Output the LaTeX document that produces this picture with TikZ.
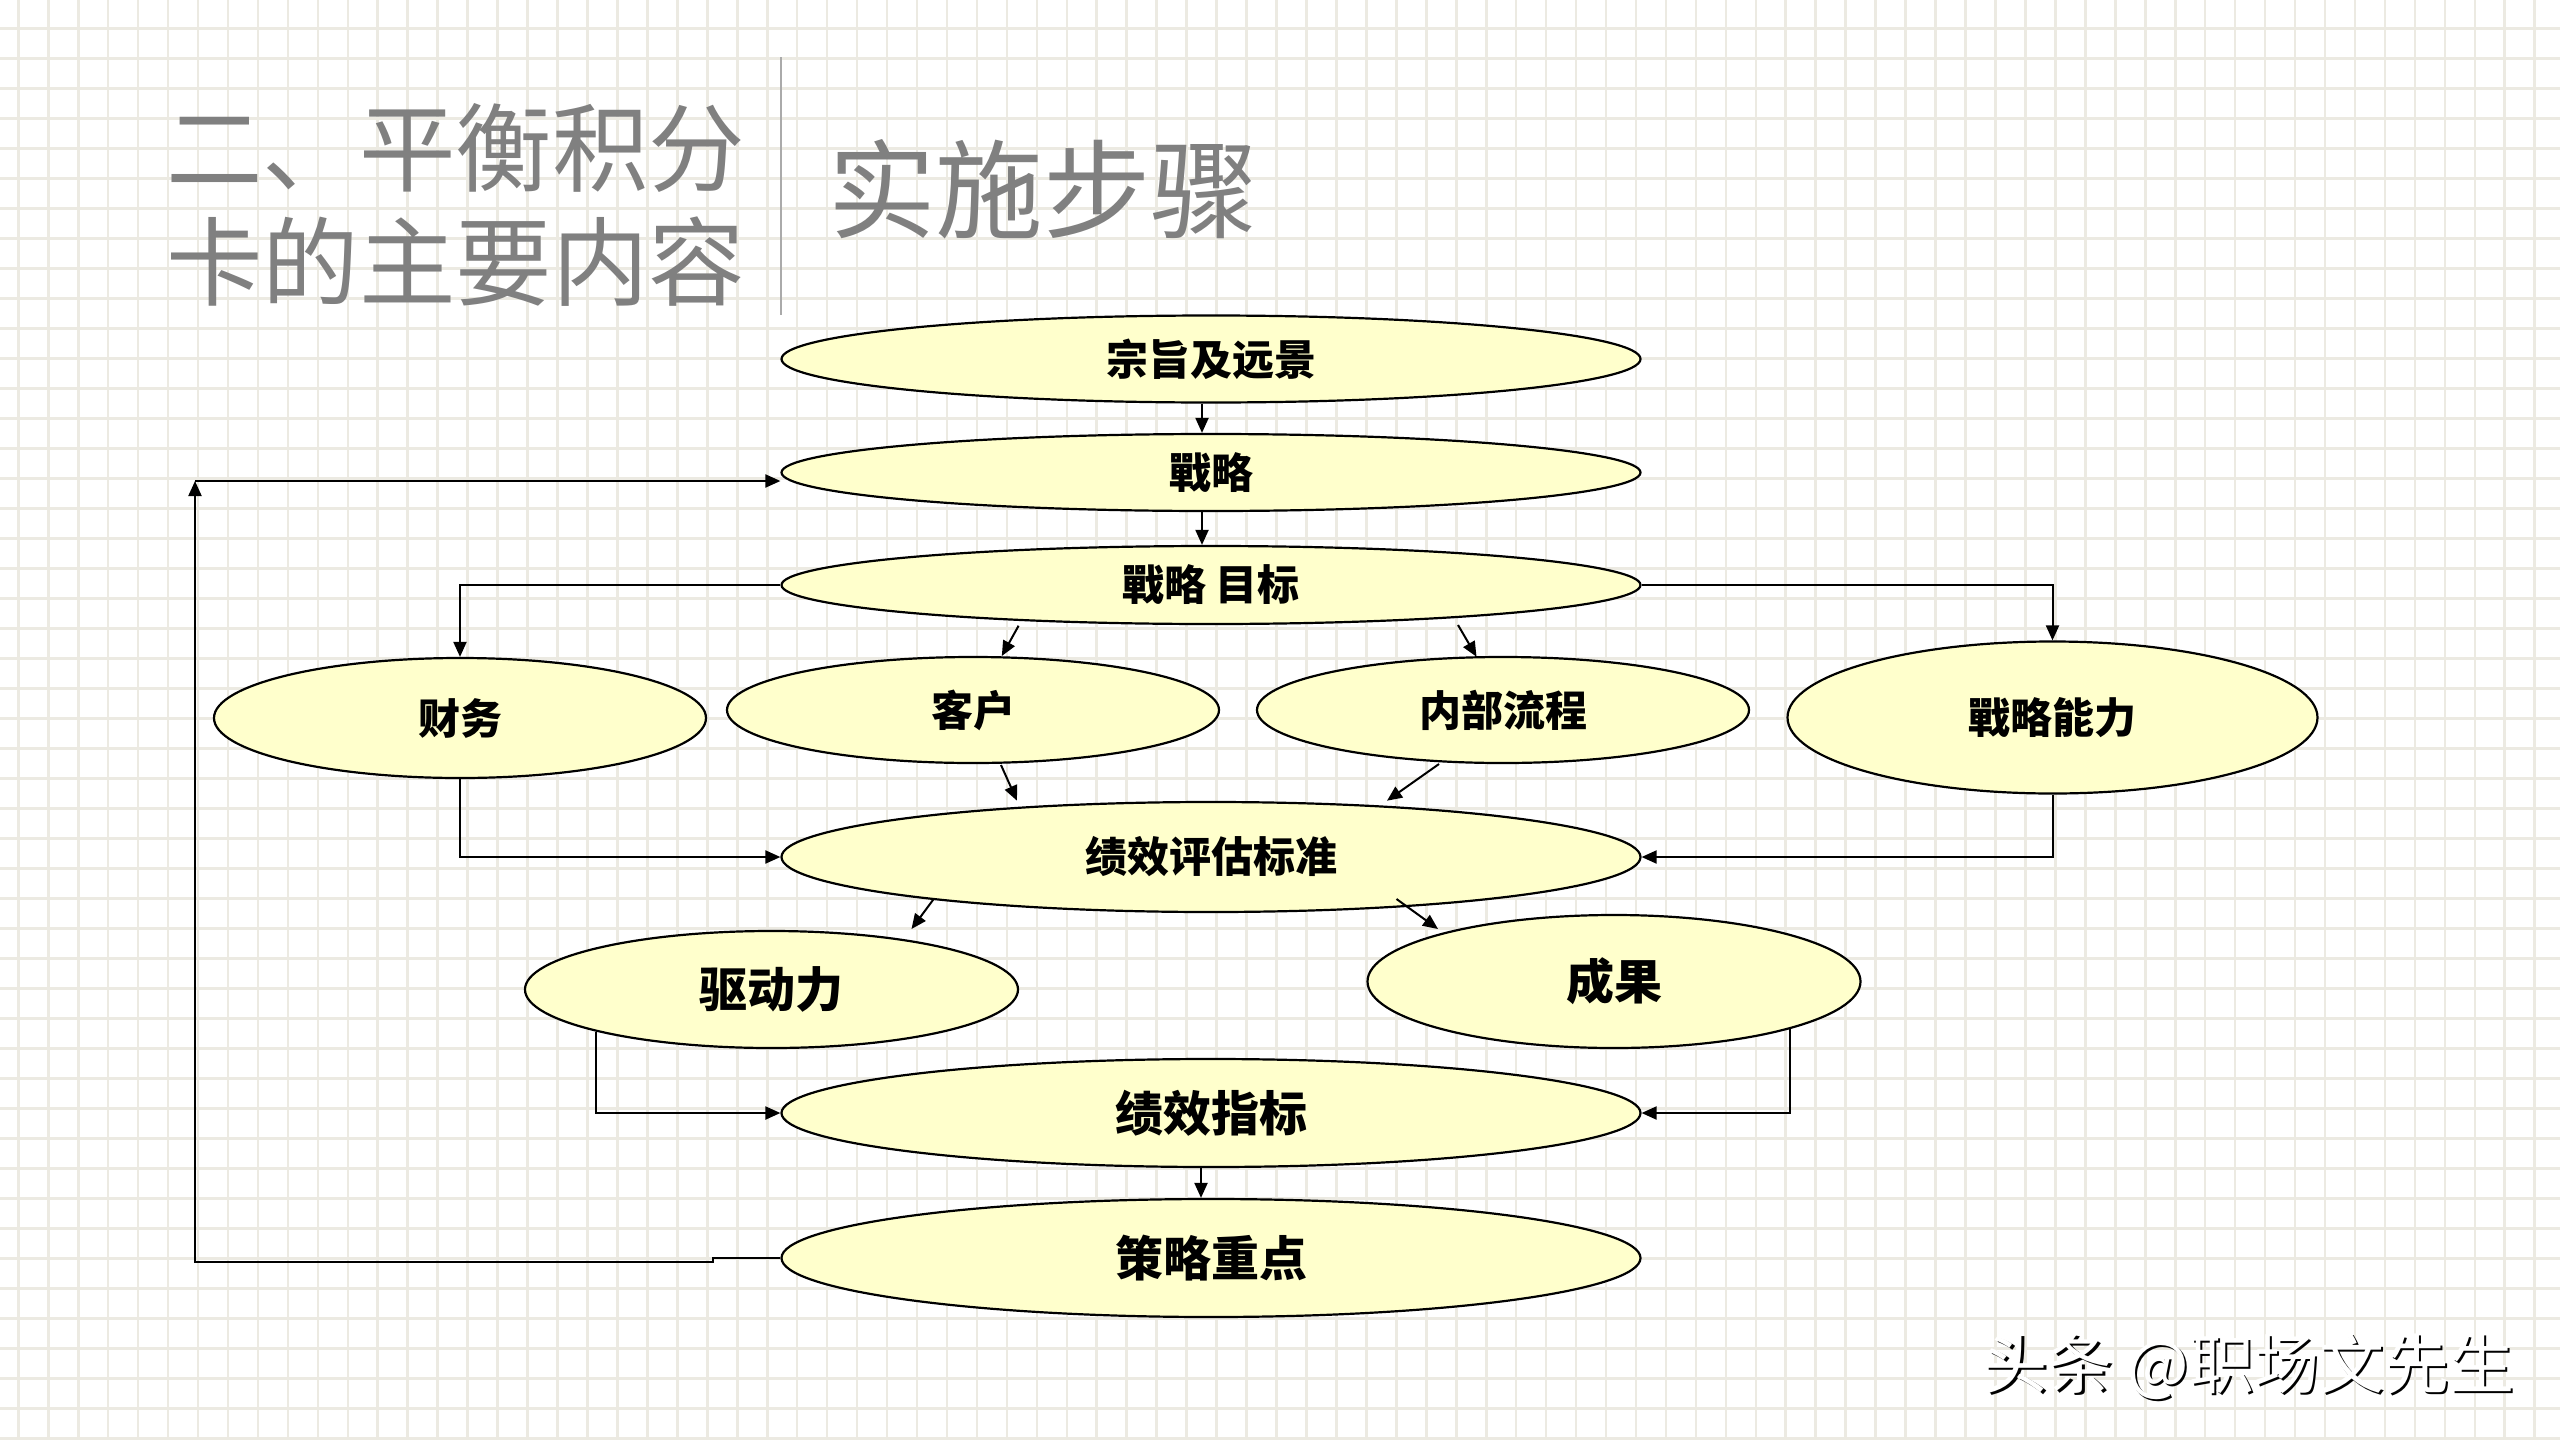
\documentclass[tikz,border=0pt]{standalone}
\usepackage{fontspec}
\newfontfamily\cjk{Noto Sans CJK SC}
\usetikzlibrary{shapes.geometric,arrows.meta,calc}
\definecolor{ellfill}{RGB}{255,255,204}
\definecolor{gridc}{RGB}{236,234,226}
\definecolor{titlegray}{RGB}{128,128,128}
\definecolor{sepgray}{RGB}{170,170,170}
\tikzset{
  oval/.style={ellipse, draw=black, line width=2.2pt, fill=ellfill, inner sep=0pt,
    font=\cjk\bfseries\fontsize{42}{48}\selectfont},
  ovalbig/.style={oval, font=\cjk\bfseries\fontsize{48}{54}\selectfont},
  conn/.style={line width=2pt, -{Triangle[length=15pt,width=13pt]}},
  gridline/.style={draw=gridc, line width=2.6pt},
  titletext/.style={anchor=west, inner sep=0pt, text=titlegray},
  wmtext/.style={inner sep=0pt, font=\cjk\fontsize{65}{65}\selectfont},
}
\begin{document}
\begin{tikzpicture}[x=1pt,y=-1pt]
\fill[white] (0,0) rectangle (2560,1440);
\useasboundingbox (0,0) rectangle (2560,1440);
% grid background
\foreach \k in {0,...,85} { \draw[gridline] ({18.3+29.957*\k},0) -- ({18.3+29.957*\k},1440); }
\foreach \k in {0,...,47} { \draw[gridline] (0,{28.3+30*\k}) -- (2560,{28.3+30*\k}); }

% titles
\node[titletext, font=\cjk\fontsize{96.5}{96.5}\selectfont] (t1) at (166,148) {二、平衡积分};
\node[titletext, font=\cjk\fontsize{96.5}{96.5}\selectfont] (t2) at (166,262) {卡的主要内容};
\node[titletext, font=\cjk\fontsize{107.5}{107.5}\selectfont] (t3) at (828,189) {实施步骤};
\coordinate (sepTop) at (781,57);
\coordinate (sepBot) at (781,315);
\draw[sepgray, line width=1.5pt] (sepTop) -- (sepBot);

% ellipses
\node[oval, minimum width=859pt, minimum height=87pt] (mission) at (1211,359) {宗旨及远景};
\node[oval, minimum width=859pt, minimum height=77pt] (strategy) at (1211,472.5) {戰略};
\node[oval, minimum width=859pt, minimum height=78pt] (goals) at (1211,585) {戰略 目标};
\node[oval, minimum width=492pt, minimum height=120pt] (finance) at (460,718) {财务};
\node[oval, minimum width=492pt, minimum height=106pt] (customer) at (973,710) {客户};
\node[oval, minimum width=492pt, minimum height=106pt] (process) at (1503,710) {内部流程};
\node[oval, minimum width=530pt, minimum height=152pt] (capability) at (2052.5,717.5) {戰略能力};
\node[oval, minimum width=859pt, minimum height=110pt] (criteria) at (1211,857) {绩效评估标准};
\node[ovalbig, minimum width=493pt, minimum height=117pt] (driver) at (771.5,989.5) {驱动力};
\node[ovalbig, minimum width=493pt, minimum height=133pt] (result) at (1614,981.5) {成果};
\node[ovalbig, minimum width=859pt, minimum height=108pt] (kpi) at (1211,1113) {绩效指标};
\node[ovalbig, minimum width=859pt, minimum height=118pt] (focus) at (1211,1258) {策略重点};

% connectors
\draw[conn] ([xshift=-9pt]mission.south) -- ([xshift=-9pt]strategy.north);
\draw[conn] ([xshift=-9pt]strategy.south) -- ([xshift=-9pt]goals.north);
\coordinate (loopTop) at (195,481);
\draw[conn] (focus.west) -- ++(-67,0) -- ++(0,4) -| (loopTop);
\draw[conn] (loopTop) -- (strategy.west |- loopTop);
\draw[conn] (goals.west) -| (finance.north);
\draw[conn] (goals.east) -| (capability.north);
\draw[conn] ([shift={(-192.4,40.7)}]goals.center) -- ([shift={(28.8,-54)}]customer.center);
\draw[conn] ([shift={(247,40)}]goals.center) -- ([shift={(-26.5,-53.3)}]process.center);
\draw[conn] ([shift={(28,55)}]customer.center) -- ([shift={(-194,-56.3)}]criteria.center);
\draw[conn] ([shift={(-64,54)}]process.center) -- ([shift={(176,-56.3)}]criteria.center);
\draw[conn] (finance.south) |- (criteria.west);
\draw[conn] (capability.south) |- (criteria.east);
\draw[conn] ([shift={(-277.3,42)}]criteria.center) -- ([shift={(140,-60.5)}]driver.center);
\draw[conn] ([shift={(185.5,42)}]criteria.center) -- ([shift={(-176,-52.5)}]result.center);
\draw[conn] ([shift={(-176,42)}]driver.center) |- (kpi.west);
\draw[conn] ([shift={(175.5,47.5)}]result.center) |- (kpi.east);
\draw[conn] ([xshift=-10pt]kpi.south) -- ([xshift=-10pt]focus.north);

% watermark
\node[wmtext, text=black] (wm) at (2251,1369) {头条 @职场文先生};
\node[wmtext, text=white] (wmw) at (2248.5,1366.5) {头条 @职场文先生};
\end{tikzpicture}
\end{document}
